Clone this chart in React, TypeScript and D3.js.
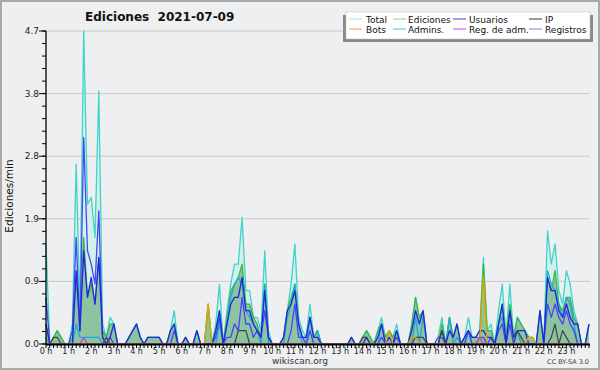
import React from 'react';
import * as d3 from 'd3';

// 10-minute bins, 145 points (0 h .. 24 h), values in edits/min
const total = [
  1.5,0,0.1,0.2,0.1,0, 0,0.3,2.7,0.5,4.7,2.1, 2.2,1.6,3.8,0.3,0.1,0.4, 0.3,0,0,0,0.1,0.2,
  0.3,0.1,0,0.1,0.1,0.1, 0.1,0,0,0.2,0.5,0, 0,0.1,0,0,0.2,0, 0,0.6,0,0.3,0.9,0,
  0.5,0.9,1.2,1.2,1.9,0.8, 0.8,0.4,0.4,0.2,1.4,0.2, 0,0,0,0.1,0.5,0.9, 1.5,0.4,0.2,0.1,0.6,0.1,
  0.2,0,0,0,0,0, 0,0,0,0.1,0,0, 0.1,0.2,0.1,0,0.2,0.4, 0.1,0.2,0.1,0.3,0,0,
  0,0.3,0.7,0.4,0.5,0, 0,0,0.1,0.4,0,0.4, 0.1,0.3,0,0.1,0.4,0.1, 0.1,0.2,1.3,0.2,0.3,0,
  0.5,0.9,0.1,0.9,0.1,0.4, 0.3,0.2,0.1,0.1,0,0.5, 0,1.7,1.2,1.5,0.8,0.6, 1.1,0.9,0.5,0.3,0,0,
  0.3];
const ediciones = [
  0.3,0,0.1,0.2,0.1,0, 0,0.1,1.0,0.3,1.6,0.7, 0.9,0.6,1.3,0.2,0.1,0.3, 0.3,0,0,0,0.1,0.2,
  0.3,0.1,0,0.1,0.1,0.1, 0.1,0,0,0.2,0.3,0, 0,0.1,0,0,0.2,0, 0,0.6,0,0.2,0.5,0,
  0.4,0.8,0.9,1.0,1.2,0.6, 0.6,0.4,0.3,0.1,0.9,0.1, 0,0,0,0.1,0.5,0.7, 0.9,0.3,0.1,0.1,0.4,0.1,
  0.2,0,0,0,0,0, 0,0,0,0.1,0,0, 0.1,0.2,0.1,0,0.2,0.3, 0.1,0.2,0.1,0.2,0,0,
  0,0.3,0.7,0.4,0.5,0, 0,0,0,0.3,0,0.4, 0.1,0.3,0,0.1,0.2,0.1, 0.1,0.1,1.2,0.2,0.2,0,
  0.3,0.6,0.1,0.6,0.1,0.4, 0.3,0.2,0.1,0.1,0,0.5, 0,1.0,0.8,1.1,0.6,0.5, 0.7,0.7,0.4,0.3,0,0,
  0.3];
const usuarios = [
  0.3,0,0,0,0,0, 0,0,1.1,0.2,1.4,0.7, 1.0,0.6,1.3,0.1,0,0.1, 0.3,0,0,0,0.1,0.2,
  0.3,0.1,0,0.1,0.1,0.1, 0.1,0,0,0.2,0.3,0, 0,0.1,0,0,0.2,0, 0,0,0,0.2,0.5,0,
  0.3,0.6,0.7,0.7,1.0,0.5, 0.5,0.3,0.2,0.1,0.8,0.1, 0,0,0,0.1,0.5,0.6, 0.8,0.3,0.1,0.1,0.4,0.1,
  0.1,0,0,0,0,0, 0,0,0,0.1,0,0, 0,0.1,0,0,0.1,0.3, 0,0.1,0,0.2,0,0,
  0,0.2,0.5,0.3,0.5,0, 0,0,0,0.2,0,0.2, 0.1,0.3,0,0.1,0.2,0.1, 0.1,0.2,0.2,0.1,0.1,0,
  0.3,0.6,0,0.5,0.1,0.2, 0.2,0.2,0,0,0,0.5, 0,1.0,0.8,0.8,0.5,0.4, 0.6,0.4,0.3,0.3,0,0,
  0.3];
const registros = [
  0.7,0,0,0,0,0, 0,0.2,1.6,0.2,3.1,1.4, 1.2,0.9,2.0,0.1,0,0.1, 0,0,0,0,0,0,
  0,0,0,0,0,0, 0,0,0,0,0.2,0, 0,0,0,0,0,0, 0,0,0,0.1,0.4,0,
  0.1,0.1,0.3,0.2,0.7,0.3, 0.3,0.1,0.2,0.1,0.5,0.1, 0,0,0,0,0,0.2, 0.6,0.1,0.1,0,0.2,0,
  0,0,0,0,0,0, 0,0,0,0,0,0, 0,0,0,0,0,0.1, 0,0,0,0.1,0,0,
  0,0,0,0,0,0, 0,0,0.1,0.1,0,0, 0,0,0,0,0.2,0, 0,0.1,0.1,0,0.1,0,
  0.2,0.3,0,0.3,0,0, 0,0,0,0,0,0, 0,0.6,0.4,0.6,0.4,0.3, 0.5,0.3,0.2,0,0,0,
  0];
const admins = [
  0.1,0,0,0,0,0, 0,0,0.3,0.1,0.1,0.1, 0.1,0.1,0.1,0,0,0, 0,0,0,0,0,0,
  0,0,0,0,0,0, 0,0,0,0,0,0, 0,0,0,0,0,0, 0,0,0,0,0.3,0,
  0.3,0.7,0.9,1.0,0.9,0.5, 0.4,0.3,0.2,0,0.9,0, 0,0,0,0,0.4,0.6, 0.9,0.3,0,0,0.4,0.1,
  0.2,0,0,0,0,0, 0,0,0,0,0,0, 0,0,0,0,0,0.3, 0,0,0,0.2,0,0,
  0,0,0.4,0,0.4,0, 0,0,0,0,0,0.4, 0,0.1,0,0,0.2,0, 0,0,0,0,0,0,
  0.3,0.4,0,0.5,0,0.2, 0,0,0,0,0,0, 0,1.1,0.9,0.8,0.6,0.4, 0.7,0.6,0.3,0,0,0,
  0];
const ip = [
  0,0,0.1,0.1,0,0, 0,0,0,0,0,0, 0,0,0,0,0.1,0, 0,0,0,0,0,0,
  0,0,0,0,0,0, 0,0,0,0,0,0, 0,0,0,0,0,0, 0,0,0,0,0,0,
  0,0,0,0.2,0.2,0.2, 0,0,0,0,0,0, 0,0,0,0,0,0, 0,0,0,0,0,0,
  0,0,0,0,0,0, 0,0,0,0,0,0, 0.1,0.1,0,0,0,0, 0,0,0,0,0,0,
  0,0,0.1,0.1,0.1,0, 0,0,0,0.2,0,0, 0,0,0,0,0,0, 0,0,0,0,0,0,
  0,0,0,0,0,0.2, 0.1,0,0,0,0,0, 0,0,0.1,0.3,0,0.2, 0.1,0,0,0,0,0,
  0];
const bots = [
  0,0,0,0,0,0, 0,0,0,0,0,0, 0,0,0,0,0,0, 0,0,0,0,0,0,
  0,0,0,0,0,0, 0,0,0,0,0,0, 0,0,0,0,0,0, 0,0.6,0,0,0,0,
  0,0,0,0,0,0, 0,0,0,0,0,0, 0,0,0,0,0,0, 0,0,0,0,0,0,
  0,0,0,0,0,0, 0,0,0,0,0,0, 0,0,0,0,0,0, 0,0.2,0,0,0,0,
  0,0.1,0.1,0,0,0, 0,0,0,0,0,0, 0,0,0,0,0,0, 0,0,1.0,0,0,0,
  0,0,0,0,0,0, 0,0,0.1,0.1,0,0, 0,0,0,0,0,0, 0,0,0,0,0,0,
  0];
const regAdm = [
  0,0,0,0,0,0, 0,0,0,0,0.1,0, 0,0,0,0,0,0, 0,0,0,0,0,0,
  0,0,0,0,0,0, 0,0,0,0,0,0, 0,0,0,0,0,0, 0,0,0,0,0,0,
  0,0,0,0,0,0, 0,0,0,0,0,0, 0,0,0,0,0,0, 0,0,0,0,0,0,
  0,0,0,0,0,0, 0,0,0,0,0,0, 0,0,0,0,0,0, 0,0,0,0,0,0,
  0,0,0,0,0,0, 0,0,0,0,0,0, 0,0,0,0,0,0, 0,0.1,0,0,0,0,
  0,0,0,0,0,0, 0,0,0,0,0,0, 0,0,0,0,0,0, 0,0,0,0,0,0,
  0];

const hourLabels = d3.range(24).map((h) => `${h} h`);
const yMax = 4.7;
const yMajor = [0, 0.94, 1.88, 2.82, 3.76, 4.7];

const legendNames = ['Total', 'Ediciones', 'Usuarios', 'IP', 'Bots', 'Admins.', 'Reg. de adm.', 'Registros'];
const legendColors = ['#a8e4e2', '#8cd08c', '#4444cc', '#333333', '#f0a030', '#40c8d8', '#cc44dd', '#7a7aee'];

const FONT = '"DejaVu Sans", Verdana, sans-serif';

export default function App() {
  const W = 600, H = 370;
  const left = 46, right = 589, top = 31, bottom = 344;
  const x = d3.scaleLinear().domain([0, 144]).range([left, right]);
  const y = d3.scaleLinear().domain([0, yMax]).range([bottom, top]);

  const line = d3.line<number>().x((_, i) => x(i)).y((d) => y(d));
  const area = d3.area<number>().x((_, i) => x(i)).y0(y(0)).y1((d) => y(d));

  const series = [
    { data: total, color: '#3fd3c9', w: 1.3 },
    { data: ediciones, color: '#3cb84a', w: 1.3 },
    { data: admins, color: '#1fa8dc', w: 1.3 },
    { data: registros, color: '#4646f6', w: 1.3 },
    { data: usuarios, color: '#2424e0', w: 1.3 },
    { data: ip, color: '#444444', w: 1.2 },
    { data: bots, color: '#f0a000', w: 1.3 },
    { data: regAdm, color: '#c040e0', w: 1.2 },
  ];

  const minorTicks = d3.range(0, 26).map((k) => k * 0.188).filter((v) => v <= yMax + 1e-6);
  const fmt = d3.format('.1f');

  const legX = [349, 393, 453, 529];
  const legTextX = [366, 408, 469, 545];
  const legY = [19, 29];

  return (
    <svg width={W} height={H} style={{ position: 'fixed', left: 0, top: 0, display: 'block' }} fontFamily={FONT}>
      <rect x={1} y={1} width={W - 2} height={H - 2} fill="#eeeff0" stroke="#a9a9a9" strokeWidth={2} />
      {yMajor.slice(1).map((v, i) => (
        <line key={'g' + i} x1={left} x2={right + 1} y1={y(v)} y2={y(v)} stroke="#c8c8c8" strokeWidth={1} />
      ))}
      <path d={area(total) || ''} fill="#d3f1ea" />
      <path d={area(ediciones) || ''} fill="#8cc3a0" />
      {series.map((s, i) => (
        <path key={'s' + i} d={line(s.data) || ''} fill="none" stroke={s.color} strokeWidth={s.w} strokeLinejoin="round" />
      ))}
      <line x1={left} x2={left} y1={top} y2={bottom + 1} stroke="#000" strokeWidth={1.3} />
      <line x1={left} x2={right + 1} y1={bottom + 0.5} y2={bottom + 0.5} stroke="#000" strokeWidth={1.8} />
      {minorTicks.map((v, i) => (
        <line key={'m' + i} x1={left - 4} x2={left} y1={y(v)} y2={y(v)} stroke="#000" strokeWidth={1} />
      ))}
      {yMajor.map((v, i) => (
        <g key={'y' + i}>
          <line x1={left - 7} x2={left} y1={y(v)} y2={y(v)} stroke="#000" strokeWidth={1} />
          <text x={left - 7} y={y(v) + 3} fontSize={9} textAnchor="end" fill="#222">{fmt(v)}</text>
        </g>
      ))}
      {d3.range(0, 145).map((i) => (
        <line key={'xt' + i} x1={x(i)} x2={x(i)} y1={bottom} y2={bottom + 4} stroke="#000" strokeWidth={1} />
      ))}
      {hourLabels.map((lab, h) => (
        <text key={'xl' + h} x={x(h * 6)} y={354} fontSize={8} textAnchor="middle" fill="#222" style={{ whiteSpace: 'pre' }}>{lab}</text>
      ))}
      <text x={85} y={21} fontSize={12} fontWeight="bold" fill="#111" style={{ whiteSpace: 'pre' }}>{'Ediciones  2021-07-09'}</text>
      <text transform={`translate(13,196) rotate(-90)`} fontSize={10.5} textAnchor="middle" fill="#111">Ediciones/min</text>
      <text x={300} y={364} fontSize={9} textAnchor="middle" fill="#333">wikiscan.org</text>
      <text x={589} y={364} fontSize={6.5} textAnchor="end" fill="#444">CC BY-SA 3.0</text>
      <rect x={343} y={15} width={250} height={27} fill="#8a8a8a" />
      <rect x={346} y={12} width={244} height={27} fill="#ffffff" stroke="#bbbbbb" strokeWidth={0.5} />
      {legendNames.map((name, k) => {
        const col = k % 4;
        const row = Math.floor(k / 4);
        return (
          <g key={'l' + k}>
            <line x1={legX[col]} x2={legX[col] + 13} y1={legY[row]} y2={legY[row]} stroke={legendColors[k]} strokeWidth={1} />
            <text x={legTextX[col]} y={legY[row] + 3.5} fontSize={9} fill="#111">{name}</text>
          </g>
        );
      })}
    </svg>
  );
}
